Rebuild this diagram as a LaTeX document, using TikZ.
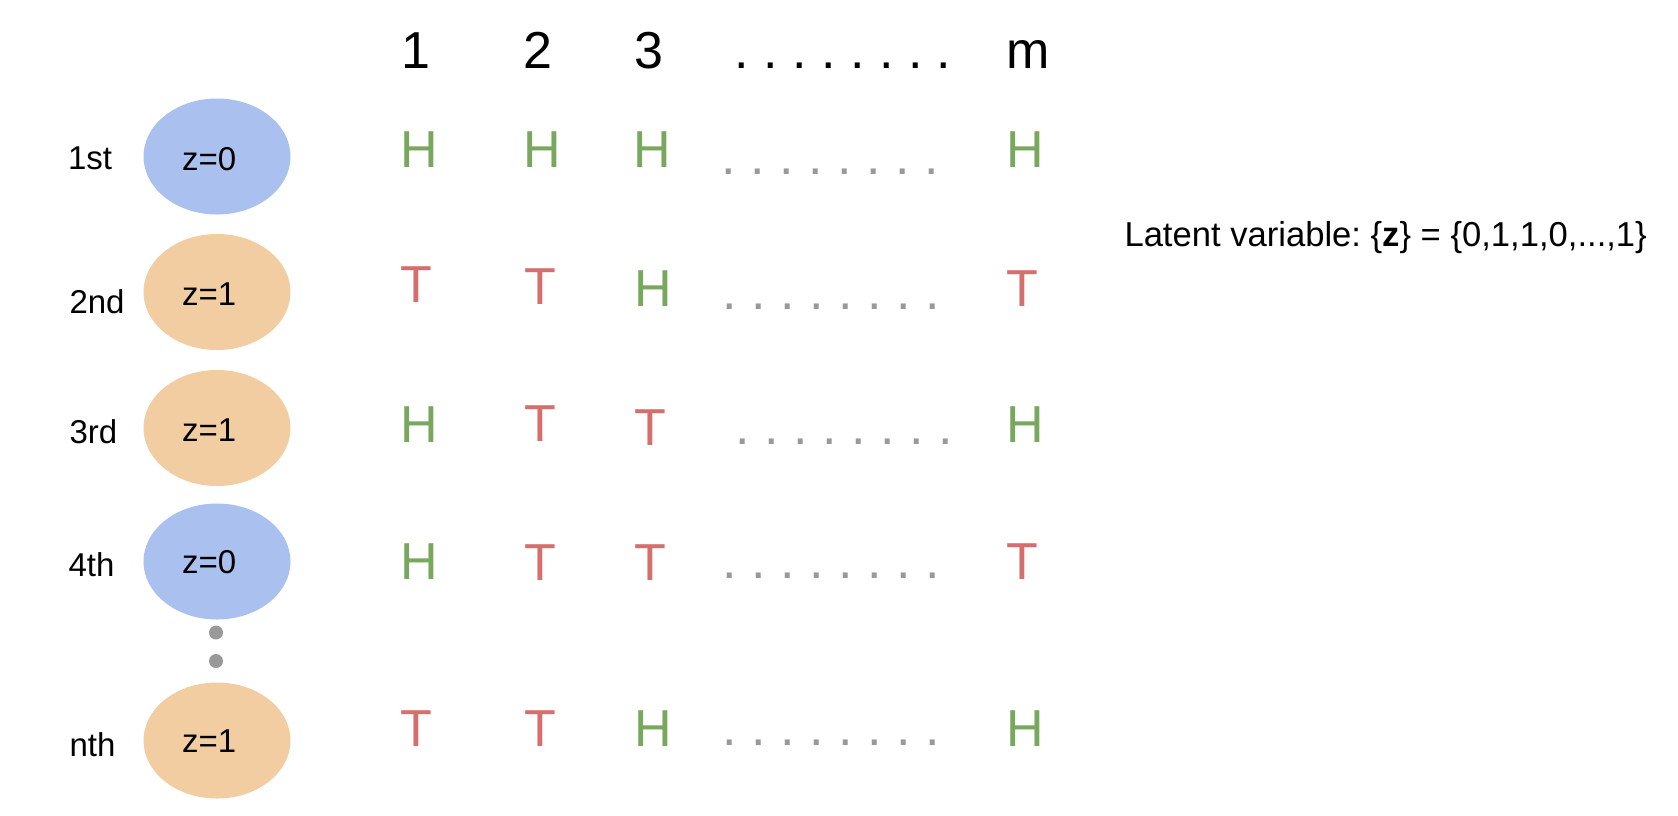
\documentclass[tikz,border=0pt]{standalone}
\usepackage{fontspec}
\setmainfont{Liberation Sans}
\usetikzlibrary{shapes.geometric,calc}
\definecolor{zblue}{HTML}{AAC0EE}
\definecolor{zorange}{HTML}{F2CDA2}
\definecolor{hgreen}{HTML}{78A85E}
\definecolor{tred}{HTML}{D56F6B}
\definecolor{dotgrey}{HTML}{999999}
\frenchspacing
\begin{document}
\begin{tikzpicture}[x=1pt,y=-1pt,
  big/.style={font=\fontsize{52}{60}\selectfont, inner sep=0pt, outer sep=0pt, anchor=base},
  hh/.style={big, text=hgreen},
  tt/.style={big, text=tred},
  gdots/.style={big, anchor=base west, text=dotgrey},
  hdots/.style={big, anchor=base west, text=black},
  lab/.style={font=\fontsize{33}{40}\selectfont, inner sep=0pt, outer sep=0pt, anchor=base west},
  zell/.style={ellipse, minimum width=147pt, minimum height=116pt, inner sep=0pt, draw=none},
  vdot/.style={circle, fill=dotgrey, minimum size=14pt, inner sep=0pt, draw=none}
]
\fill[white] (0,0) rectangle (1678,815);
\useasboundingbox (0,0) rectangle (1678,815);

% column header
\node[big] (c1) at (416,68) {1};
\node[big] (c2) at (537.5,68) {2};
\node[big] (c3) at (648.5,68) {3};
\node[hdots] (cdots) at (734.7,68) {. . . . . . . .};
\node[big] (cm) at (1028,68) {m};

% row labels
\node[lab] (l1) at (68,169) {1st};
\node[lab] (l2) at (69.5,313.5) {2nd};
\node[lab] (l3) at (69.5,443.5) {3rd};
\node[lab] (l4) at (68.5,576.5) {4th};
\node[lab] (l5) at (69.5,756) {nth};

% ellipses
\node[zell, fill=zblue]   (e1) at (217,156.5) {};
\node[zell, fill=zorange] (e2) at (217,292) {};
\node[zell, fill=zorange] (e3) at (217,428) {};
\node[zell, fill=zblue]   (e4) at (217,561.5) {};
\node[zell, fill=zorange] (e5) at (217,740.5) {};
\node[lab] (z1) at ($(e1.center)+(-35,14)$) {z=0};
\node[lab] (z2) at ($(e2.center)+(-35,13)$) {z=1};
\node[lab] (z3) at ($(e3.center)+(-35,13)$) {z=1};
\node[lab] (z4) at ($(e4.center)+(-35,12)$) {z=0};
\node[lab] (z5) at ($(e5.center)+(-35,11.5)$) {z=1};

% vertical dots
\node[vdot] (d1) at (216,632.5) {};
\node[vdot] (d2) at (216,661) {};

% row 1
\node[hh] (r1c1) at (419,167) {H};
\node[hh] (r1c2) at (542,167) {H};
\node[hh] (r1c3) at (652,167) {H};
\node[gdots] (r1d) at (721.8,174.6) {. . . . . . . .};
\node[hh] (r1cm) at (1025,167) {H};

% row 2
\node[tt] (r2c1) at (416,302) {T};
\node[tt] (r2c2) at (540,304) {T};
\node[hh] (r2c3) at (653,306) {H};
\node[gdots] (r2d) at (722.8,309.6) {. . . . . . . .};
\node[tt] (r2cm) at (1022,306) {T};

% row 3
\node[hh] (r3c1) at (419,442) {H};
\node[tt] (r3c2) at (540,441) {T};
\node[tt] (r3c3) at (650,445) {T};
\node[gdots] (r3d) at (735.8,444.6) {. . . . . . . .};
\node[hh] (r3cm) at (1025,442) {H};

% row 4
\node[hh] (r4c1) at (419,579) {H};
\node[tt] (r4c2) at (540,580) {T};
\node[tt] (r4c3) at (650,580) {T};
\node[gdots] (r4d) at (722.8,578.6) {. . . . . . . .};
\node[tt] (r4cm) at (1022,579) {T};

% row n
\node[tt] (r5c1) at (416,746) {T};
\node[tt] (r5c2) at (540,746) {T};
\node[hh] (r5c3) at (653,746) {H};
\node[gdots] (r5d) at (722.8,745.6) {. . . . . . . .};
\node[hh] (r5cm) at (1025,746) {H};

% latent variable
\node[lab, font=\fontsize{34.6}{40}\selectfont] (lat) at (1124.5,246.7) {Latent variable: \{\textbf{z}\} = \{0,1,1,0,...,1\}};
\end{tikzpicture}
\end{document}
